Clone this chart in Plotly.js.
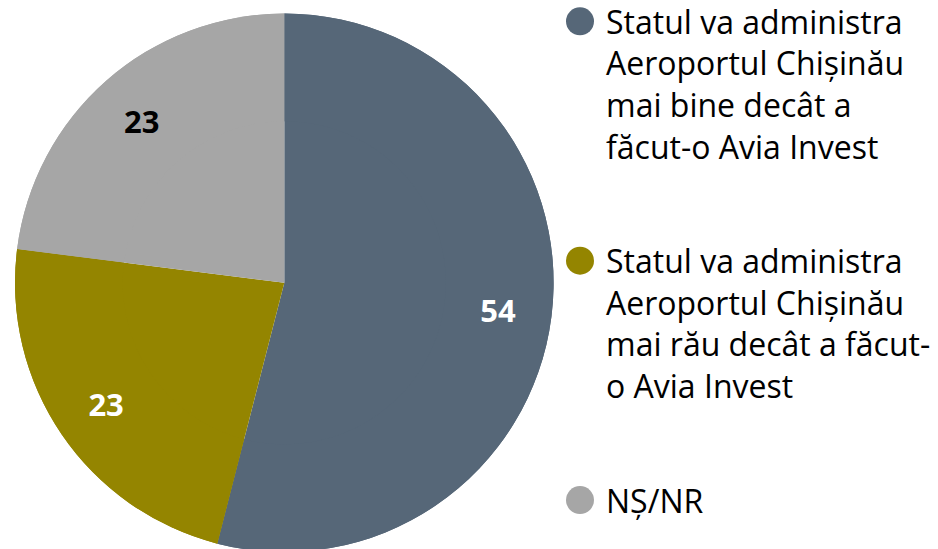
<!DOCTYPE html>
<html><head><meta charset="utf-8">
<script src="https://cdn.plot.ly/plotly-3.0.1.min.js"></script>
<style>html,body{margin:0;padding:0;overflow:hidden;background:#fff}</style>
</head><body><div id="chart" style="width:938px;height:559px;margin-top:-6px"></div>
<script>
const categories = [
  "Statul va administra Aeroportul Chișinău mai bine decât a făcut-o Avia Invest",
  "Statul va administra Aeroportul Chișinău mai rău decât a făcut-o Avia Invest",
  "NȘ/NR"
];
const legendLabels = [
  "Statul va administra<br>Aeroportul Chișinău<br>mai bine decât a<br>făcut-o Avia Invest",
  "Statul va administra<br>Aeroportul Chișinău<br>mai rău decât a făcut-<br>o Avia Invest",
  "NȘ/NR"
];
const values = [54, 23, 23];
const colors = ["#566778", "#948500", "#a6a6a6"];
const textColors = ["#ffffff", "#ffffff", "#000000"];

const FONT = "'Open Sans', Lato, sans-serif";
const H = 559, W = 938, OFF = 6;
const pieDomain = {x: [15 / W, 553.6 / W], y: [(H - 552.1 - OFF) / H, (H - 13.5 - OFF) / H]};

const traces = [
  { // full pie (fills the centre)
    type: "pie", values: values, labels: categories, sort: false,
    direction: "clockwise", rotation: 0,
    marker: {colors: colors, line: {width: 0}},
    textinfo: "none", showlegend: false, hoverinfo: "none", domain: pieDomain
  },
  { // outer ring carrying the value labels at ~0.8 R
    type: "pie", values: values, labels: categories, sort: false,
    direction: "clockwise", rotation: 0, hole: 0.6,
    marker: {colors: colors, line: {width: 0}},
    textinfo: "value", textposition: "inside", insidetextorientation: "horizontal",
    textfont: {family: FONT, size: 31, color: textColors, weight: "bold"},
    showlegend: false, hoverinfo: "none", domain: pieDomain
  }
];
for (let i = 0; i < categories.length; i++) {
  traces.push({
    type: "scatter", x: [null], y: [null], mode: "markers",
    name: legendLabels[i], legendgroup: "g" + i, showlegend: true,
    marker: {color: colors[i], size: 16, symbol: "circle"},
    hoverinfo: "none"
  });
}
const layout = {
  width: W, height: H,
  margin: {l: 0, r: 0, t: 0, b: 0},
  paper_bgcolor: "#ffffff", plot_bgcolor: "#ffffff",
  xaxis: {visible: false}, yaxis: {visible: false},
  showlegend: true,
  legend: {
    x: 554 / W, y: 1, xanchor: "left", yanchor: "top", valign: "top",
    itemwidth: 42,
    font: {family: FONT, size: 32, color: "#000000"},
    tracegroupgap: 70, bgcolor: "rgba(0,0,0,0)", borderwidth: 0
  }
};
Plotly.newPlot("chart", traces, layout, {staticPlot: true}).then(function (gd) {
  gd.querySelectorAll(".legend .legendpoints path.scatterpts").forEach(function (p) {
    p.setAttribute("d", "M14,0A14,14 0 1,1 0,-14A14,14 0 0,1 14,0Z");
  });
});
</script></body></html>
